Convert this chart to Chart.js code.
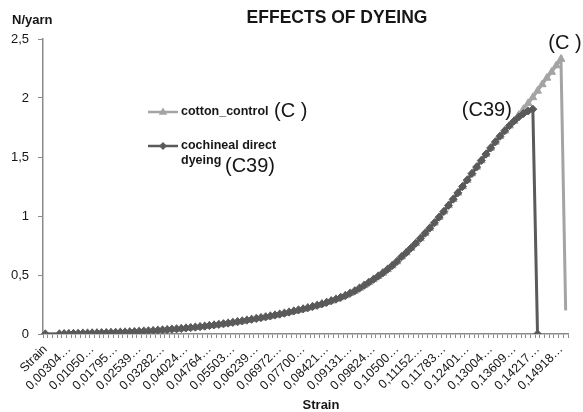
<!DOCTYPE html>
<html><head><meta charset="utf-8">
<script src="https://cdn.jsdelivr.net/npm/chart.js@4.4.0/dist/chart.umd.min.js"></script>
<style>html,body{margin:0;padding:0;background:#fff}#wrap{width:583px;height:412px;position:relative}</style>
</head><body><div id="wrap"><canvas id="c" width="583" height="412"></canvas></div>
<script>
// ---- data ----
const tickLabels = ['Strain','0,00304…','0,01050…','0,01795…','0,02539…','0,03282…','0,04024…','0,04764…','0,05503…','0,06239…','0,06972…','0,07700…','0,08421…','0,09131…','0,09824…','0,10500…','0,11152…','0,11783…','0,12401…','0,13004…','0,13609…','0,14217…','0,14918…'];
const labelEvery = 5;
const nCategories = 112;
const yTickValues = [0, 0.5, 1, 1.5, 2, 2.5];
const seriesNames = ['cotton_control', 'cochineal direct dyeing'];
const seriesTags = ['(C )', '(C39)'];

const cottonControl = [0, null, null,
 0.000,0.002,0.003,0.004,0.005,0.006,0.007,0.008,0.009,0.010,
 0.011,0.012,0.013,0.015,0.016,0.018,0.020,0.022,0.024,0.026,
 0.028,0.031,0.034,0.037,0.040,0.043,0.046,0.050,0.054,0.058,
 0.062,0.066,0.071,0.076,0.081,0.086,0.092,0.098,0.104,0.110,
 0.117,0.124,0.131,0.138,0.145,0.152,0.160,0.168,0.176,0.185,
 0.194,0.203,0.212,0.222,0.232,0.243,0.255,0.268,0.281,0.295,
 0.310,0.326,0.345,0.365,0.388,0.412,0.437,0.463,0.490,0.518,
 0.548,0.580,0.614,0.655,0.690,0.728,0.768,0.810,0.853,0.897,
 0.942,0.990,1.038,1.090,1.142,1.196,1.250,1.305,1.360,1.415,
 1.470,1.524,1.577,1.628,1.676,1.722,1.765,1.805,
 1.855,1.905,1.955,2.005,2.060,2.115,2.170,2.220,2.275,2.330,
 0.2];

const cochinealC39 = [0, null, null,
 0.000,0.002,0.003,0.004,0.005,0.006,0.007,0.008,0.009,0.010,
 0.011,0.012,0.013,0.015,0.016,0.018,0.020,0.022,0.024,0.026,
 0.028,0.031,0.034,0.037,0.040,0.043,0.046,0.050,0.054,0.058,
 0.062,0.066,0.071,0.076,0.081,0.086,0.092,0.098,0.104,0.110,
 0.117,0.124,0.131,0.138,0.145,0.152,0.160,0.168,0.176,0.185,
 0.194,0.203,0.212,0.222,0.232,0.243,0.255,0.268,0.281,0.295,
 0.310,0.326,0.345,0.365,0.388,0.412,0.437,0.463,0.490,0.518,
 0.548,0.580,0.614,0.655,0.690,0.728,0.768,0.810,0.853,0.897,
 0.942,0.990,1.038,1.090,1.142,1.196,1.250,1.305,1.360,1.415,
 1.470,1.524,1.577,1.628,1.676,1.722,1.765,1.805,
 1.840,1.868,1.890,1.905,
 0, null, null, null, null, null, null];

const categories = [];
for (let i = 0; i < nCategories; i++) categories.push(i % labelEvery === 0 ? (tickLabels[i / labelEvery] || '') : '');

const FONT = '"Liberation Sans", Arial, sans-serif';
const LIGHT = '#a4a4a4', DARK = '#5a5a5a', AXIS = '#8a8a8a', TXT = '#161616';

function marker(ctx, style, x, y, r, color) {
  ctx.save(); ctx.fillStyle = color; ctx.beginPath();
  if (style === 'triangle') {
    ctx.moveTo(x, y - r); ctx.lineTo(x + r * 0.95, y + r * 0.6); ctx.lineTo(x - r * 0.95, y + r * 0.6);
  } else {
    ctx.moveTo(x, y - r); ctx.lineTo(x + r, y); ctx.lineTo(x, y + r); ctx.lineTo(x - r, y);
  }
  ctx.closePath(); ctx.fill(); ctx.restore();
}

const textPlugin = {
  id: 'texts',
  afterDraw(chart) {
    const ctx = chart.ctx;
    ctx.save();
    ctx.fillStyle = TXT;
    ctx.textBaseline = 'middle';
    ctx.font = 'bold 17.5px ' + FONT; ctx.textAlign = 'center';
    ctx.fillText('EFFECTS OF DYEING', 337, 18);
    ctx.font = 'bold 13px ' + FONT; ctx.textAlign = 'left';
    ctx.fillText('N/yarn', 12, 20);
    ctx.font = 'bold 13px ' + FONT; ctx.textAlign = 'center';
    ctx.fillText('Strain', 321, 405);
    // legend
    ctx.lineWidth = 2.5;
    ctx.strokeStyle = LIGHT; ctx.beginPath(); ctx.moveTo(148, 112); ctx.lineTo(178, 112); ctx.stroke();
    marker(ctx, 'triangle', 163, 112, 4.5, LIGHT);
    ctx.strokeStyle = DARK; ctx.beginPath(); ctx.moveTo(148, 146); ctx.lineTo(178, 146); ctx.stroke();
    marker(ctx, 'diamond', 163, 146, 4, DARK);
    ctx.fillStyle = TXT; ctx.textAlign = 'left';
    ctx.font = 'bold 12.5px ' + FONT;
    ctx.fillText(seriesNames[0], 181, 112);
    ctx.fillText('cochineal direct', 181, 146);
    ctx.fillText('dyeing', 181, 161);
    ctx.font = '20px ' + FONT;
    ctx.fillText(seriesTags[0], 274, 111);
    ctx.fillText(seriesTags[1], 225, 166);
    // annotations near peaks
    const xs = chart.scales.x, ys = chart.scales.y;
    ctx.textAlign = 'right';
    ctx.fillText(seriesTags[1], xs.getPixelForValue(104) - 21, ys.getPixelForValue(cochinealC39[104]) + 1);
    ctx.textAlign = 'center';
    ctx.fillText(seriesTags[0], xs.getPixelForValue(110) + 4, ys.getPixelForValue(cottonControl[110]) - 16);
    ctx.restore();
  }
};

new Chart(document.getElementById('c'), {
  type: 'line',
  data: {
    labels: categories,
    datasets: [
      { label: seriesNames[0], data: cottonControl, borderColor: LIGHT, backgroundColor: LIGHT,
        pointBackgroundColor: LIGHT, pointBorderColor: LIGHT, pointStyle: 'triangle',
        pointRadius: c => (c.dataIndex === nCategories - 1 ? 0 : 4.5), pointBorderWidth: 1,
        borderWidth: 3, spanGaps: true, tension: 0, order: 2 },
      { label: seriesNames[1], data: cochinealC39, borderColor: DARK, backgroundColor: DARK,
        pointBackgroundColor: DARK, pointBorderColor: DARK, pointStyle: 'rectRot',
        pointRadius: 4, pointBorderWidth: 1,
        borderWidth: 3, spanGaps: true, tension: 0, order: 1 }
    ]
  },
  options: {
    responsive: false, animation: false, devicePixelRatio: 1,
    layout: { padding: { top: 39, right: 15, bottom: 0, left: 0 } },
    plugins: { legend: { display: false }, tooltip: { enabled: false }, title: { display: false } },
    scales: {
      x: {
        type: 'category', offset: true,
        grid: { display: true, drawOnChartArea: false, drawTicks: true, tickLength: 4, tickColor: AXIS, offset: true },
        border: { color: AXIS, width: 1.5 },
        ticks: { autoSkip: false, minRotation: 45, maxRotation: 45, padding: 4, color: TXT,
                 font: { family: FONT, size: 12.5 }, callback: (v) => categories[v] },
        afterFit: s => { s.height = 78; }
      },
      y: {
        min: 0, max: 2.5,
        afterBuildTicks: s => { s.ticks = yTickValues.map(v => ({ value: v })); },
        grid: { drawOnChartArea: false, drawTicks: true, tickLength: 5, tickColor: AXIS },
        border: { color: AXIS, width: 1.5 },
        ticks: { padding: 9, color: TXT, font: { family: FONT, size: 13 },
                 callback: v => String(v).replace('.', ',') },
        afterFit: s => { s.width = 43; }
      }
    }
  },
  plugins: [textPlugin]
});
</script></body></html>
